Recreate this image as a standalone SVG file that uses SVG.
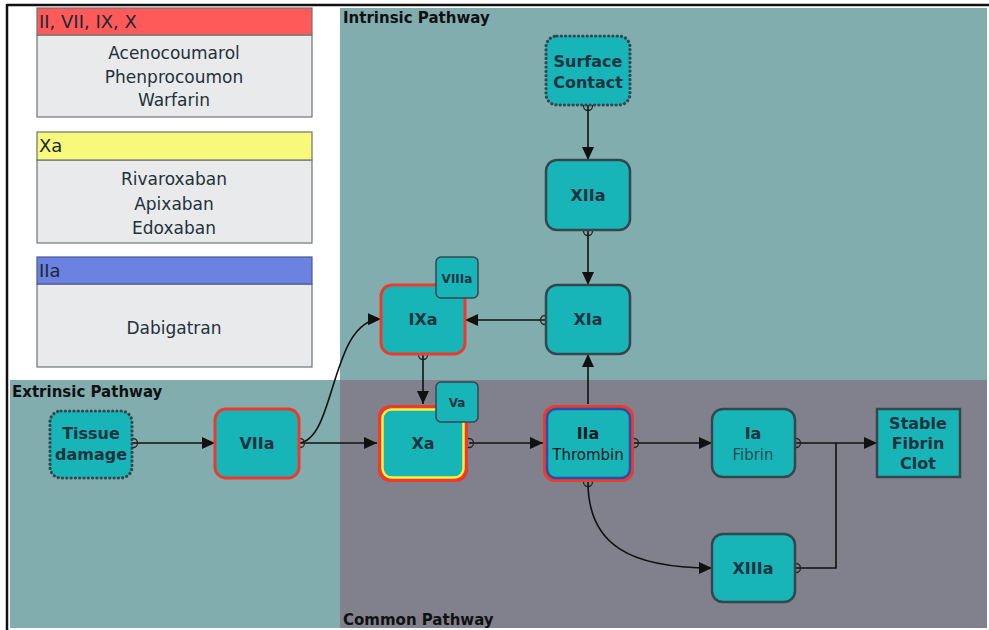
<svg xmlns="http://www.w3.org/2000/svg" width="989" height="630" viewBox="0 0 989 630">
  <style>
    .region-label { font-family: "DejaVu Sans", sans-serif; font-weight: bold; font-size: 15px; fill: #111; }
    .legend-head { font-family: "DejaVu Sans", sans-serif; font-size: 18px; fill: #1a2a33; }
    .legend-body { font-family: "DejaVu Sans", sans-serif; font-size: 17px; fill: #24313a; text-anchor: middle; }
    .node { fill: #17b4b8; stroke: #34474f; stroke-width: 2.5; }
    .dotted { stroke-dasharray: 0.1 4.2; stroke-width: 3.2; stroke-linecap: round; }
    .red { stroke: #ee3a2c; stroke-width: 3; }
    .small { fill: #17b4b8; stroke: #34474f; stroke-width: 1.5; }
    .lbl { font-family: "DejaVu Sans", sans-serif; font-weight: bold; font-size: 16px; fill: #1c3340; text-anchor: middle; }
    .sub { font-family: "DejaVu Sans", sans-serif; font-size: 15px; fill: #1c3340; text-anchor: middle; }
    .edge { fill: none; stroke: #111; stroke-width: 1.6; }
    .port { fill: none; stroke: #222; stroke-width: 1.3; }
  </style>
  <defs>
    <marker id="arrow" viewBox="0 0 13 12" refX="13" refY="6" markerWidth="13" markerHeight="12" markerUnits="userSpaceOnUse" orient="auto">
      <path d="M0,0 L13,6 L0,12 Z" fill="#111"/>
    </marker>
  </defs>

  <!-- page background and frame -->
  <rect x="0" y="0" width="989" height="630" fill="#ffffff"/>
  <line x1="7" y1="5" x2="989" y2="5" stroke="#111" stroke-width="2.5"/>
  <line x1="7" y1="4" x2="7" y2="630" stroke="#111" stroke-width="2.5"/>

  <!-- pathway regions -->
  <g id="regions">
    <rect x="340" y="8" width="647" height="372" fill="#82adaf"/>
    <rect x="10" y="380" width="330" height="248" fill="#82adaf"/>
    <rect x="340" y="380" width="647" height="248" fill="#80818d"/>
    <text class="region-label" x="343" y="23">Intrinsic Pathway</text>
    <text class="region-label" x="12" y="397">Extrinsic Pathway</text>
    <text class="region-label" x="343" y="625">Common Pathway</text>
  </g>

  <!-- drug legend -->
  <g id="legend-vka">
    <rect x="37" y="35" width="275" height="82" fill="#e8eaeb" stroke="#6d7378" stroke-width="1.2"/>
    <rect x="37" y="8" width="275" height="27" fill="#ff5a5a" stroke="#6d7378" stroke-width="1.2"/>
    <text class="legend-head" x="39" y="28">II, VII, IX, X</text>
    <text class="legend-body" x="174" y="59">Acenocoumarol</text>
    <text class="legend-body" x="174" y="83">Phenprocoumon</text>
    <text class="legend-body" x="174" y="106">Warfarin</text>
  </g>
  <g id="legend-xa">
    <rect x="37" y="160" width="275" height="83" fill="#e8eaeb" stroke="#6d7378" stroke-width="1.2"/>
    <rect x="37" y="132" width="275" height="28" fill="#f8f87a" stroke="#6d7378" stroke-width="1.2"/>
    <text class="legend-head" x="39" y="152">Xa</text>
    <text class="legend-body" x="174" y="185">Rivaroxaban</text>
    <text class="legend-body" x="174" y="210">Apixaban</text>
    <text class="legend-body" x="174" y="234">Edoxaban</text>
  </g>
  <g id="legend-iia">
    <rect x="37" y="284" width="275" height="83" fill="#e8eaeb" stroke="#6d7378" stroke-width="1.2"/>
    <rect x="37" y="257" width="275" height="27" fill="#6c82e0" stroke="#4a5a90" stroke-width="1.2"/>
    <text class="legend-head" x="39" y="277">IIa</text>
    <text class="legend-body" x="174" y="334">Dabigatran</text>
  </g>

  <!-- connectors (drawn beneath the nodes so each port circle shows only its outer half) -->
  <g id="connectors">
    <path class="edge" d="M588,105 L588,160" marker-end="url(#arrow)"/>
    <circle class="port" cx="588" cy="106" r="4.5"/>
    <path class="edge" d="M588,230 L588,285" marker-end="url(#arrow)"/>
    <circle class="port" cx="588" cy="231" r="4.5"/>
    <path class="edge" d="M546,320 L465,320" marker-end="url(#arrow)"/>
    <circle class="port" cx="545" cy="320" r="4.5"/>
    <path class="edge" d="M423,354 L423,404" marker-end="url(#arrow)"/>
    <circle class="port" cx="423" cy="355" r="4.5"/>
    <path class="edge" d="M132,443 L215,443" marker-end="url(#arrow)"/>
    <circle class="port" cx="133" cy="443" r="4.5"/>
    <path class="edge" d="M299,443 L377,443" marker-end="url(#arrow)"/>
    <path class="edge" d="M299,443 C336,440 330,320 381,319" marker-end="url(#arrow)"/>
    <circle class="port" cx="300" cy="443" r="4.5"/>
    <path class="edge" d="M469,443 L543,443" marker-end="url(#arrow)"/>
    <circle class="port" cx="469" cy="443" r="4.5"/>
    <path class="edge" d="M588,404 L588,354" marker-end="url(#arrow)"/>
    <path class="edge" d="M634,443 L712,443" marker-end="url(#arrow)"/>
    <circle class="port" cx="634" cy="443" r="4.5"/>
    <path class="edge" d="M588,482 C588,545 630,568 712,568" marker-end="url(#arrow)"/>
    <circle class="port" cx="588" cy="482" r="4.5"/>
    <path class="edge" d="M795,443 L877,443" marker-end="url(#arrow)"/>
    <circle class="port" cx="796" cy="443" r="4.5"/>
    <path class="edge" d="M795,568 L836,568 L836,443"/>
    <circle class="port" cx="796" cy="568" r="4.5"/>
  </g>

  <!-- nodes -->
  <g id="surface-contact">
    <rect class="node dotted" x="546" y="36" width="84" height="69" rx="11"/>
    <text class="lbl" x="588" y="67">Surface</text>
    <text class="lbl" x="588" y="88">Contact</text>
  </g>
  <g id="xiia">
    <rect class="node" x="546" y="160" width="84" height="70" rx="11"/>
    <text class="lbl" x="588" y="201">XIIa</text>
  </g>
  <g id="xia">
    <rect class="node" x="546" y="285" width="84" height="69" rx="11"/>
    <text class="lbl" x="588" y="325">XIa</text>
  </g>
  <g id="ixa">
    <rect class="node red" x="381" y="285" width="84" height="69" rx="11"/>
    <text class="lbl" x="423" y="325">IXa</text>
  </g>
  <g id="viiia">
    <rect class="small" x="436" y="257" width="42" height="41" rx="5"/>
    <text class="lbl" x="457" y="283" style="font-size:12px">VIIIa</text>
  </g>
  <g id="xa">
    <rect x="378" y="405" width="90" height="77" rx="12" fill="#ee3a2c"/>
    <rect x="382.5" y="409.5" width="81" height="68" rx="9" fill="#17b4b8" stroke="#f2f23a" stroke-width="2.5"/>
    <text class="lbl" x="423" y="449">Xa</text>
  </g>
  <g id="va">
    <rect class="small" x="436" y="382" width="42" height="40" rx="5"/>
    <text class="lbl" x="457" y="407" style="font-size:12px">Va</text>
  </g>
  <g id="iia">
    <rect x="543" y="405" width="91" height="77" rx="12" fill="#ee3a2c"/>
    <rect x="547" y="409" width="83" height="69" rx="9" fill="#17b4b8" stroke="#2a4eae" stroke-width="2.5"/>
    <text class="lbl" x="588" y="439" style="fill:#0d1a22">IIa</text>
    <text class="sub" x="588" y="460" style="fill:#0d1a22">Thrombin</text>
  </g>
  <g id="viia">
    <rect class="node red" x="215" y="409" width="84" height="69" rx="11"/>
    <text class="lbl" x="257" y="449">VIIa</text>
  </g>
  <g id="tissue-damage">
    <rect class="node dotted" x="50" y="411" width="82" height="67" rx="11"/>
    <text class="lbl" x="91" y="439">Tissue</text>
    <text class="lbl" x="91" y="460">damage</text>
  </g>
  <g id="ia">
    <rect class="node" x="712" y="409" width="83" height="68" rx="11"/>
    <text class="lbl" x="753" y="439">Ia</text>
    <text class="sub" x="753" y="460" style="fill:#2c4a55">Fibrin</text>
  </g>
  <g id="stable-clot">
    <rect class="node" x="877" y="409" width="83" height="68"/>
    <text class="lbl" x="918" y="429">Stable</text>
    <text class="lbl" x="918" y="449">Fibrin</text>
    <text class="lbl" x="918" y="469">Clot</text>
  </g>
  <g id="xiiia">
    <rect class="node" x="712" y="534" width="83" height="68" rx="11"/>
    <text class="lbl" x="753" y="574">XIIIa</text>
  </g>
</svg>
